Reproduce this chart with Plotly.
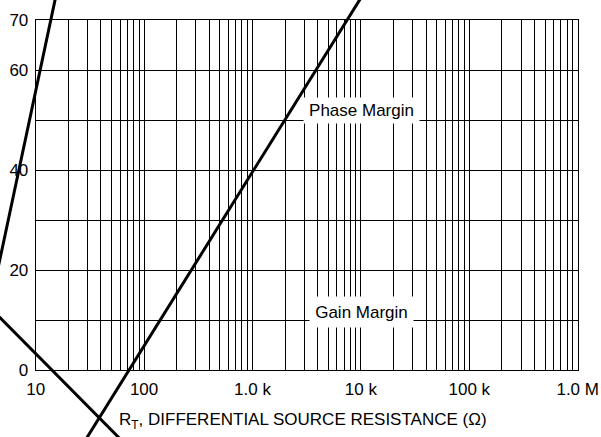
import plotly.graph_objects as go

# ---- data ----
line_a_x = [20, 20000]          # rising line
line_a_y = [-19.5, 84.9]
line_b_x = [3, 200]             # descending line
line_b_y = [14.7, -25.2]
line_c_x = [3, 20]              # steep line, left
line_c_y = [2.5, 86.5]

x_grid_vals = [m * 10 ** e for e in range(1, 6) for m in range(1, 10)] + [1e6]
x_tick_labels = {10: "10", 100: "100", 1000: "1.0 k", 10000: "10 k", 100000: "100 k", 1000000: "1.0 M"}
y_tick_vals = [0, 10, 20, 30, 40, 50, 60, 70]
y_tick_text = ["0", "", "20", "", "40", "", "60", "70"]

FONT = "Liberation Sans, Arial, Helvetica, sans-serif"

# grid subplot geometry (paper fractions)
W, H = 601, 437
xd = [35.7 / W, 577.7 / W]
yd = [(H - 370) / H, (H - 20) / H]
xr2 = [1, 6]
yr2 = [0, 70]
# full-figure axes aligned with the grid axes
sx = (xr2[1] - xr2[0]) / (xd[1] - xd[0])
sy = (yr2[1] - yr2[0]) / (yd[1] - yd[0])
xr1 = [xr2[0] - xd[0] * sx, xr2[1] + (1 - xd[1]) * sx]
yr1 = [yr2[0] - yd[0] * sy, yr2[1] + (1 - yd[1]) * sy]

fig = go.Figure()
# dummy trace for the grid subplot
fig.add_trace(go.Scatter(x=[10], y=[0], xaxis="x2", yaxis="y2", mode="markers",
                         marker=dict(opacity=0), showlegend=False, hoverinfo="skip"))
for xs, ys in [(line_a_x, line_a_y), (line_b_x, line_b_y), (line_c_x, line_c_y)]:
    fig.add_trace(go.Scatter(x=xs, y=ys, mode="lines", xaxis="x", yaxis="y",
                             line=dict(color="black", width=3), showlegend=False,
                             hoverinfo="skip"))

fig.update_layout(
    width=W, height=H, autosize=False,
    margin=dict(l=0, r=0, t=0, b=0, pad=0, autoexpand=False),
    paper_bgcolor="white", plot_bgcolor="rgba(0,0,0,0)",
    showlegend=False, hovermode=False,
    font=dict(family=FONT, size=17, color="black"),
    xaxis=dict(type="log", range=xr1, domain=[0, 1], visible=False, fixedrange=True,
               automargin=False),
    yaxis=dict(range=yr1, domain=[0, 1], visible=False, fixedrange=True,
               automargin=False),
    xaxis2=dict(type="log", range=xr2, domain=xd, anchor="y2", automargin=False,
                tickvals=x_grid_vals, tickangle=0, ticklabelstandoff=4,
                ticktext=[x_tick_labels.get(int(v), "") for v in x_grid_vals],
                showgrid=True, gridcolor="black", gridwidth=1,
                showline=True, mirror=True, linecolor="black", linewidth=1,
                ticks="", zeroline=False, fixedrange=True,
                tickfont=dict(size=17, family=FONT, color="black")),
    yaxis2=dict(range=yr2, domain=yd, anchor="x2", automargin=False,
                tickvals=y_tick_vals, ticktext=y_tick_text, tickangle=0,
                ticklabelstandoff=3,
                showgrid=True, gridcolor="black", gridwidth=1,
                showline=True, mirror=True, linecolor="black", linewidth=1,
                ticks="", zeroline=False, fixedrange=True,
                tickfont=dict(size=17, family=FONT, color="black")),
    annotations=[
        dict(x=4.006, y=51.9, xref="x2", yref="y2", text="Phase Margin", showarrow=False,
             bgcolor="white", width=115, height=25, borderpad=0,
             font=dict(size=17, family=FONT, color="black")),
        dict(x=4.006, y=11.66, xref="x2", yref="y2", text="Gain Margin", showarrow=False,
             bgcolor="white", width=103, height=30, borderpad=0,
             font=dict(size=17, family=FONT, color="black")),
        dict(x=303 / W, y=(H - 421) / H, xref="paper", yref="paper",
             text="R<sub>T</sub>, DIFFERENTIAL SOURCE RESISTANCE (Ω)", showarrow=False,
             xanchor="center", yanchor="middle",
             font=dict(size=17, family=FONT, color="black")),
    ],
)

fig.write_html("out.html", config={"displayModeBar": False, "staticPlot": True},
               post_script="document.body.style.margin='0';document.body.style.overflow='hidden';")
